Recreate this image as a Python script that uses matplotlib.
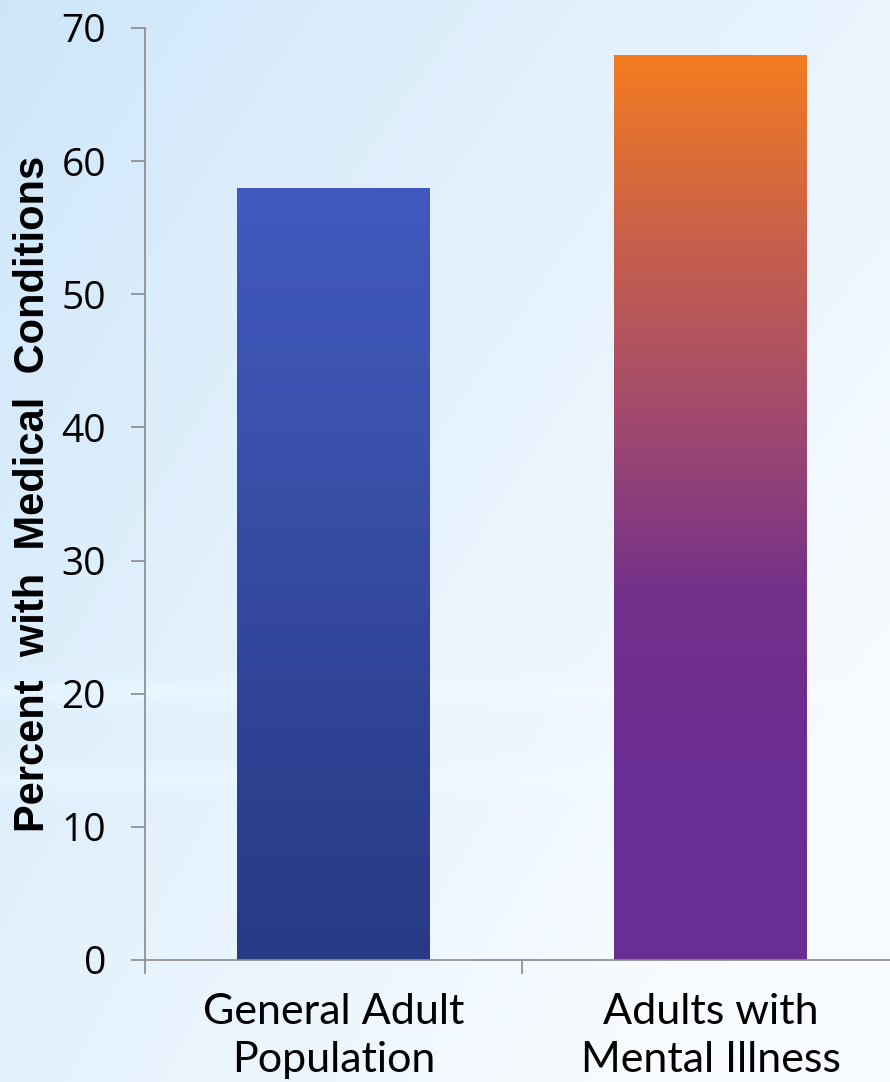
import numpy as np
import matplotlib
matplotlib.use("Agg")
import matplotlib.pyplot as plt
from matplotlib.colors import LinearSegmentedColormap

# data
categories = ["General Adult\nPopulation", "Adults with\nMental Illness"]
values = [58, 68]
yticks = [0, 10, 20, 30, 40, 50, 60, 70]
ylabel = "Percent  with  Medical  Conditions"

# gradients (top -> bottom)
bar_grads = [
    ["#4159be", "#3a51ac", "#2f4496", "#283a86"],
    ["#f47c20", "#c9604a", "#a14a6e", "#73308b", "#6a2d94", "#6a2d94"],
]

fig = plt.figure(figsize=(8.9, 10.82), dpi=100)

# background
bg = fig.add_axes([0, 0, 1, 1], zorder=0)
bg.set_axis_off()
w, h = 300, 360
xx, yy = np.meshgrid(np.linspace(0, 1, w), np.linspace(0, 1, h))
t = np.clip(0.6 * xx + 0.45 * yy + 0.15 * xx * yy, 0, 1) ** 0.8
left_c = np.array([0.80, 0.90, 0.98])
right_c = np.array([0.975, 0.988, 1.0])
img = left_c[None, None, :] * (1 - t[..., None]) + right_c[None, None, :] * t[..., None]
# faint horizontal streaks
for yc, amp in [(0.64, 0.025), (0.72, 0.02)]:
    band = amp * np.exp(-((yy - yc) / 0.012) ** 2) * (1 - xx)
    img = np.clip(img + band[..., None], 0, 1)
bg.imshow(img, extent=[0, 1, 0, 1], aspect="auto", origin="upper")
bg.set_xlim(0, 1)
bg.set_ylim(0, 1)

ax = fig.add_axes([145 / 890, 122 / 1082, 754 / 890, 932 / 1082], zorder=1)
ax.patch.set_alpha(0)

x = np.arange(len(values))
bars = ax.bar(x, values, width=0.51, color="none", edgecolor="none", zorder=2)

for b, cols in zip(bars, bar_grads):
    cmap = LinearSegmentedColormap.from_list("g", cols)
    grad = np.linspace(0, 1, 256).reshape(-1, 1)
    x0, y0 = b.get_x(), b.get_y()
    im = ax.imshow(grad, cmap=cmap, aspect="auto", origin="upper",
                   extent=[x0, x0 + b.get_width(), y0, y0 + b.get_height()], zorder=2)
    im.set_clip_path(b)

ax.set_xlim(-0.5, 1.5)
ax.set_ylim(0, 70)

for s in ["top", "right"]:
    ax.spines[s].set_visible(False)
for s in ["left", "bottom"]:
    ax.spines[s].set_color("#8a8a8a")
    ax.spines[s].set_linewidth(1.2)

ax.set_yticks(yticks)
ax.set_yticklabels([str(v) for v in yticks], fontsize=28, family="Open Sans")
ax.tick_params(axis="y", length=10, width=1.2, color="#8a8a8a", pad=18)

ax.set_xticks(x)
ax.set_xticklabels(categories, fontsize=31, family="Lato", linespacing=1.3)
ax.set_xticks([-0.5, 0.5, 1.5], minor=True)
ax.tick_params(axis="x", which="major", length=0, pad=24)
ax.tick_params(axis="x", which="minor", length=10, width=1.2, color="#8a8a8a")

ax.set_ylabel(ylabel, fontsize=30, fontweight="bold", family="Liberation Sans", labelpad=6)

fig.savefig("out.png", dpi=100)
